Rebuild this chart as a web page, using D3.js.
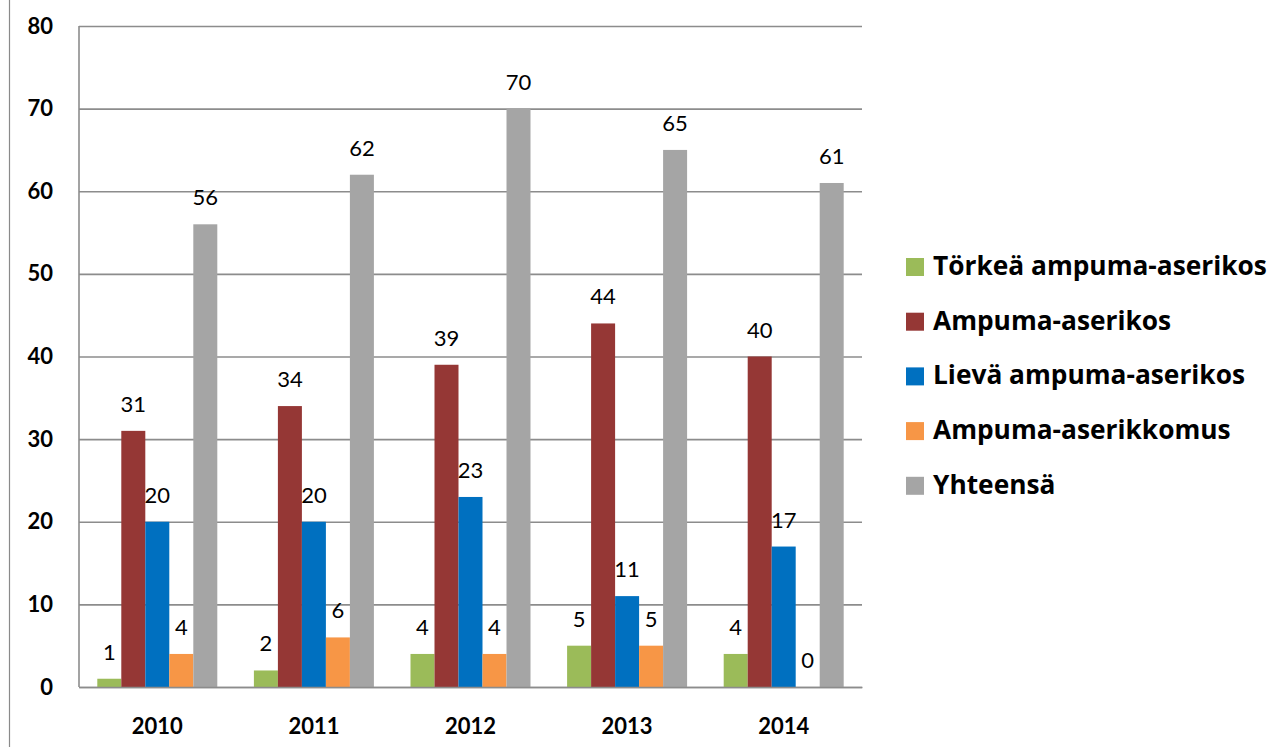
<!DOCTYPE html>
<html>
<head>
<meta charset="utf-8">
<script src="https://cdn.jsdelivr.net/npm/d3@7"></script>
<style>
  html, body { margin: 0; padding: 0; background: #fff; }
  svg { display: block; font-family: Lato, "Open Sans", sans-serif; }
</style>
</head>
<body>
<svg id="chart"></svg>
<script>
// data
const years = ['2010', '2011', '2012', '2013', '2014'];
const seriesNames = ['Törkeä ampuma-aserikos', 'Ampuma-aserikos', 'Lievä ampuma-aserikos', 'Ampuma-aserikkomus', 'Yhteensä'];
const seriesColors = ['#9BBB59', '#953735', '#0070C0', '#F79646', '#A5A5A5'];
const torkea = [1, 2, 4, 5, 4];
const ampuma = [31, 34, 39, 44, 40];
const lieva = [20, 20, 23, 11, 17];
const kokomus = [4, 6, 4, 5, 0];
const yhteensa = [56, 62, 70, 65, 61];
const yTicks = [0, 10, 20, 30, 40, 50, 60, 70, 80];

const seriesValues = [torkea, ampuma, lieva, kokomus, yhteensa];

const W = 1273, H = 747;
const plot = { left: 79, right: 862, top: 26, bottom: 687 };

const svg = d3.select('#chart').attr('width', W).attr('height', H);

// outer frame line on the left
svg.append('line')
  .attr('x1', 9.5).attr('x2', 9.5).attr('y1', 0).attr('y2', H)
  .attr('stroke', '#8a8a8a').attr('stroke-width', 1.2);

const x0 = d3.scaleBand().domain(years).range([plot.left, plot.right]).padding(0);
const x1 = d3.scaleBand().domain(d3.range(seriesNames.length))
  .range([0, x0.bandwidth()]).paddingInner(0).paddingOuter(0.7625);
const y = d3.scaleLinear().domain([0, 80]).range([plot.bottom, plot.top]);

// gridlines + y labels
const yAxis = d3.axisLeft(y).tickValues(yTicks).tickSize(-(plot.right - plot.left)).tickPadding(26);
const gy = svg.append('g').attr('transform', `translate(${plot.left},0)`).call(yAxis);
gy.select('.domain').remove();
gy.selectAll('.tick line').attr('stroke', '#8c8c8c').attr('stroke-width', 1.6);
gy.selectAll('.tick text')
  .attr('font-size', 22).attr('font-weight', 'bold').attr('fill', '#000')
  .attr('font-family', 'Lato, sans-serif');

// left axis line
svg.append('line')
  .attr('x1', plot.left).attr('x2', plot.left).attr('y1', plot.top).attr('y2', plot.bottom)
  .attr('stroke', '#8c8c8c').attr('stroke-width', 1.6);

// bars
const groups = svg.append('g').selectAll('g')
  .data(years)
  .join('g')
  .attr('transform', d => `translate(${x0(d)},0)`);

groups.selectAll('rect')
  .data((d, i) => seriesValues.map((vals, s) => ({ s, v: vals[i] })))
  .join('rect')
  .attr('x', d => x1(d.s))
  .attr('y', d => y(d.v))
  .attr('width', x1.bandwidth())
  .attr('height', d => y(0) - y(d.v))
  .attr('fill', d => seriesColors[d.s]);

groups.selectAll('text')
  .data((d, i) => seriesValues.map((vals, s) => ({ s, v: vals[i] })))
  .join('text')
  .attr('x', d => x1(d.s) + x1.bandwidth() / 2)
  .attr('y', d => y(d.v) - 19)
  .attr('text-anchor', 'middle')
  .attr('font-size', 22)
  .attr('fill', '#000')
  .text(d => d.v);

// x axis labels
const xAxis = d3.axisBottom(x0).tickSize(0).tickPadding(31);
const gx = svg.append('g').attr('transform', `translate(0,${plot.bottom})`).call(xAxis);
gx.select('.domain').attr('stroke', '#8c8c8c').attr('stroke-width', 1.6);
gx.selectAll('.tick text')
  .attr('font-size', 22).attr('font-weight', 'bold').attr('fill', '#000')
  .attr('font-family', 'Lato, sans-serif');

// legend
const legend = svg.append('g').selectAll('g')
  .data(seriesNames)
  .join('g')
  .attr('transform', (d, i) => `translate(906,${258 + i * 54.7})`);

legend.append('rect')
  .attr('width', 18).attr('height', 18)
  .attr('fill', (d, i) => seriesColors[i]);

legend.append('text')
  .attr('x', 27).attr('y', 17)
  .attr('font-family', '"Open Sans", sans-serif')
  .attr('font-size', 26.3).attr('font-weight', 'bold').attr('fill', '#000')
  .text(d => d);
</script>
</body>
</html>
